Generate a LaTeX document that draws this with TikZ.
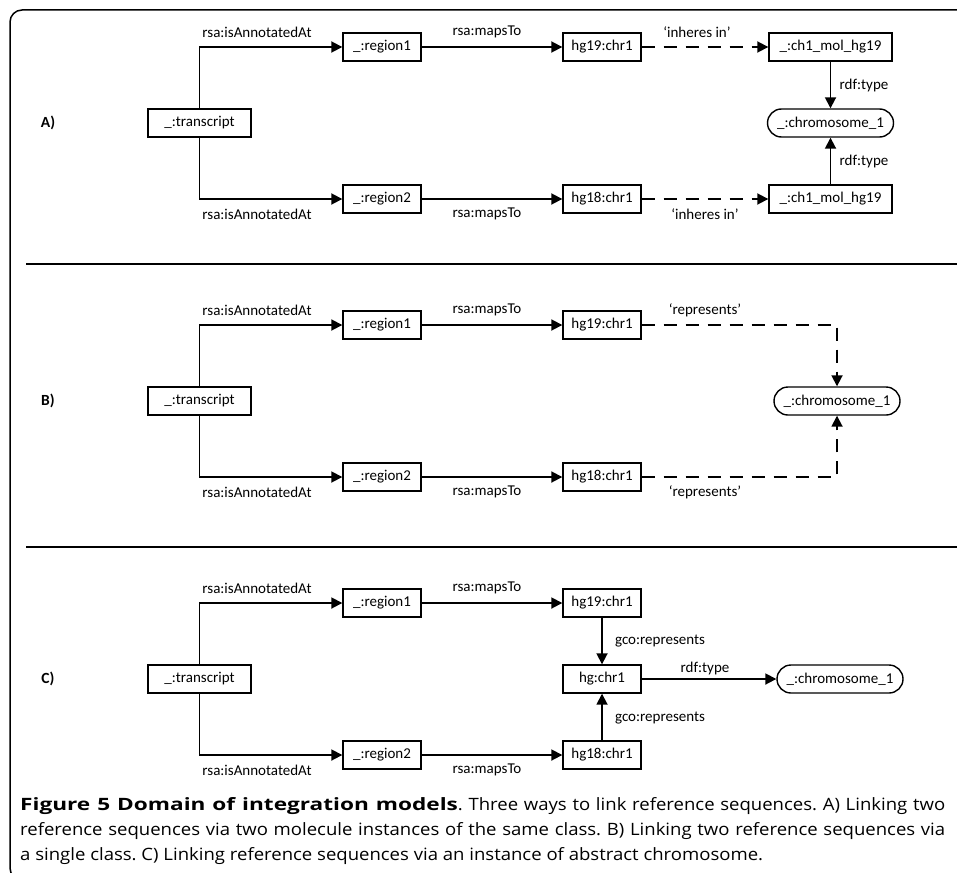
\documentclass[tikz,border=0pt]{standalone}
\usepackage{fontspec}
\setmainfont{Carlito}
\newfontfamily\capfont[FakeStretch=1.09]{Open Sans}
\newfontfamily\capbold[FakeStretch=1.33]{Open Sans Bold}
\usetikzlibrary{arrows.meta}
\tikzset{
  box/.style={draw, line width=1.4pt, minimum height=28pt, inner sep=0pt, font=\fontsize{15}{17}\selectfont},
  rbox/.style={box, rounded corners=14pt},
  arr/.style={line width=1.8pt, -{Triangle[length=11pt,width=11pt]}},
  darr/.style={arr, dash pattern=on 13pt off 9pt},
  lbl/.style={font=\fontsize{15}{17}\selectfont, inner sep=0pt},
  plbl/.style={font=\bfseries\fontsize{15.5}{17}\selectfont, inner sep=0pt},
  sep/.style={line width=1.5pt},
}
\begin{document}
\begin{tikzpicture}[x=1pt,y=-1pt]
\useasboundingbox (0,0) rectangle (957,872);
\clip (0,0) rectangle (957,872);
\fill[white] (0,0) rectangle (957,872);
% frame and separators
\draw[sep, rounded corners=12pt] (10,10) rectangle (1000,880);
\draw[sep] (26,264) -- (957,264);
\draw[sep] (26,547) -- (957,547);

% ---------------- Panel A ----------------
\node[plbl] (a-lab) at (48,123) {A)};
\node[box, minimum width=103pt] (a-t) at (199.5,123) {\_:transcript};
\node[box, minimum width=78pt] (a-r1) at (382,47) {\_:region1};
\node[box, minimum width=78pt] (a-r2) at (382,199) {\_:region2};
\node[box, minimum width=78pt] (a-h19) at (602,47) {hg19:chr1};
\node[box, minimum width=78pt] (a-h18) at (602,199) {hg18:chr1};
\node[box, minimum width=123pt] (a-m1) at (830.5,47) {\_:ch1\_mol\_hg19};
\node[box, minimum width=123pt] (a-m2) at (830.5,199) {\_:ch1\_mol\_hg19};
\node[rbox, minimum width=126pt] (a-ch) at (830.5,123) {\_:chromosome\_1};
\draw[arr] (a-t.north) |- (a-r1.west);
\draw[arr] (a-t.south) |- (a-r2.west);
\draw[arr] (a-r1) -- (a-h19);
\draw[arr] (a-r2) -- (a-h18);
\draw[darr] (a-h19) -- (a-m1);
\draw[darr] (a-h18) -- (a-m2);
\draw[arr] (a-m1) -- (a-ch);
\draw[arr] (a-m2) -- (a-ch);
\node[lbl] (a-l1) at (257,32) {rsa:isAnnotatedAt};
\node[lbl] (a-l2) at (257,214) {rsa:isAnnotatedAt};
\node[lbl] (a-l3) at (487,32) {rsa:mapsTo};
\node[lbl] (a-l4) at (487,214) {rsa:mapsTo};
\node[lbl] (a-l5) at (697,32) {‘inheres in’};
\node[lbl] (a-l6) at (705,214) {‘inheres in’};
\node[lbl] (a-l7) at (864,86) {rdf:type};
\node[lbl] (a-l8) at (864,161) {rdf:type};

% ---------------- Panel B ----------------
\node[plbl] (b-lab) at (48,401) {B)};
\node[box, minimum width=103pt] (b-t) at (199.5,401) {\_:transcript};
\node[box, minimum width=78pt] (b-r1) at (382,325) {\_:region1};
\node[box, minimum width=78pt] (b-r2) at (382,477) {\_:region2};
\node[box, minimum width=78pt] (b-h19) at (602,325) {hg19:chr1};
\node[box, minimum width=78pt] (b-h18) at (602,477) {hg18:chr1};
\node[rbox, minimum width=126pt] (b-ch) at (837,401) {\_:chromosome\_1};
\draw[arr] (b-t.north) |- (b-r1.west);
\draw[arr] (b-t.south) |- (b-r2.west);
\draw[arr] (b-r1) -- (b-h19);
\draw[arr] (b-r2) -- (b-h18);
\draw[darr] (b-h19.east) -| (b-ch.north);
\draw[darr] (b-h18.east) -| (b-ch.south);
\node[lbl] (b-l1) at (257,310) {rsa:isAnnotatedAt};
\node[lbl] (b-l2) at (257,492) {rsa:isAnnotatedAt};
\node[lbl] (b-l3) at (487,310) {rsa:mapsTo};
\node[lbl] (b-l4) at (487,492) {rsa:mapsTo};
\node[lbl] (b-l5) at (705,310) {‘represents’};
\node[lbl] (b-l6) at (705,492) {‘represents’};

% ---------------- Panel C ----------------
\node[plbl] (c-lab) at (48,679) {C)};
\node[box, minimum width=103pt] (c-t) at (199.5,679) {\_:transcript};
\node[box, minimum width=78pt] (c-r1) at (382,603) {\_:region1};
\node[box, minimum width=78pt] (c-r2) at (382,755) {\_:region2};
\node[box, minimum width=78pt] (c-h19) at (602,603) {hg19:chr1};
\node[box, minimum width=78pt] (c-hg) at (602,679) {hg:chr1};
\node[box, minimum width=78pt] (c-h18) at (602,755) {hg18:chr1};
\node[rbox, minimum width=126pt] (c-ch) at (840,679) {\_:chromosome\_1};
\draw[arr] (c-t.north) |- (c-r1.west);
\draw[arr] (c-t.south) |- (c-r2.west);
\draw[arr] (c-r1) -- (c-h19);
\draw[arr] (c-r2) -- (c-h18);
\draw[arr] (c-h19) -- (c-hg);
\draw[arr] (c-h18) -- (c-hg);
\draw[arr] (c-hg) -- (c-ch);
\node[lbl] (c-l1) at (257,588) {rsa:isAnnotatedAt};
\node[lbl] (c-l2) at (257,770) {rsa:isAnnotatedAt};
\node[lbl] (c-l3) at (487,588) {rsa:mapsTo};
\node[lbl] (c-l4) at (487,770) {rsa:mapsTo};
\node[lbl] (c-l5) at (660,641) {gco:represents};
\node[lbl] (c-l6) at (660,718) {gco:represents};
\node[lbl] (c-l7) at (705,668) {rdf:type};

% ---------------- Caption ----------------
\node[anchor=north west, inner sep=0pt, text width=925pt, align=justify,
      font=\capfont\fontsize{17}{25}\selectfont\frenchspacing] (cap) at (20,797)
 {{\capbold Figure 5 Domain of integration models}. Three ways to link reference sequences. A) Linking two\linebreak
  reference sequences via two molecule instances of the same class. B) Linking two reference sequences via\linebreak
  a single class. C) Linking reference sequences via an instance of abstract chromosome.};
\end{tikzpicture}
\end{document}
